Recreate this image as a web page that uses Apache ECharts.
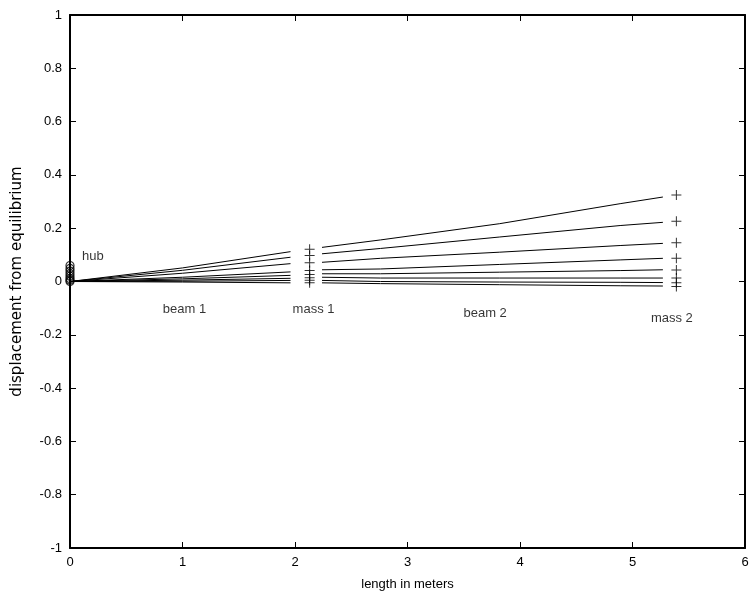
<!DOCTYPE html>
<html>
<head>
<meta charset="utf-8">
<script src="https://cdn.jsdelivr.net/npm/echarts@6/dist/echarts.min.js"></script>
<style>
  html, body { margin: 0; padding: 0; background: #fff; }
  #chart { width: 752px; height: 596px; }
</style>
</head>
<body>
<div id="chart"></div>
<script>
// Flexible two-beam arm: deflection snapshots along the structure.

// Hub angle markers (x = 0)
const hubValues = [0.060, 0.049, 0.039, 0.029, 0.020, 0.011, 0.005, 0.0];

// Beam 1 samples: positions and one row of deflections per snapshot
const beam1X = [0, 1.0, 1.96];
const beam1Y = [
  [0, 0.051, 0.112],
  [0, 0.042, 0.091],
  [0, 0.031, 0.067],
  [0, 0.016, 0.036],
  [0, 0.010, 0.023],
  [0, 0.005, 0.012],
  [0, 0.001, 0.004],
  [0, -0.002, -0.005]
];

// Tip mass 1
const mass1X = 2.13;
const mass1Y = [0.121, 0.098, 0.070, 0.041, 0.026, 0.014, 0.005, -0.005];

// Beam 2 samples
const beam2X = [2.24, 2.76, 3.82, 4.89, 5.27];
const beam2Y = [
  [0.128, 0.156, 0.217, 0.292, 0.317],
  [0.104, 0.124, 0.167, 0.210, 0.222],
  [0.072, 0.087, 0.110, 0.135, 0.143],
  [0.044, 0.047, 0.064, 0.081, 0.087],
  [0.029, 0.029, 0.035, 0.041, 0.044],
  [0.016, 0.013, 0.013, 0.013, 0.013],
  [0.004, 0.000, -0.002, -0.003, -0.004],
  [-0.005, -0.008, -0.012, -0.016, -0.017]
];

// Tip mass 2
const mass2X = 5.39;
const mass2Y = [0.325, 0.226, 0.145, 0.087, 0.043, 0.013, -0.005, -0.019];

// Annotations
const noteText = ['hub', 'beam 1', 'mass 1', 'beam 2', 'mass 2'];
const noteX = [0.107, 1.018, 2.165, 3.69, 5.35];
const noteY = [0.094, -0.105, -0.105, -0.12, -0.139];
const noteAlign = ['left', 'center', 'center', 'center', 'center'];

// Axis ranges
const xMin = 0, xMax = 6, xStep = 1;
const yMin = -1, yMax = 1, yStep = 0.2;

const FONT = 'Liberation Sans, Arial, Helvetica, sans-serif';
const INK = '#000';
const PLUS = 'path://M-0.1,-1H0.1V-0.1H1V0.1H0.1V1H-0.1V0.1H-1V-0.1H-0.1Z';

function lineSeries(xs, ys) {
  return {
    type: 'line',
    data: xs.map((x, i) => [x, ys[i]]),
    showSymbol: false,
    symbol: 'none',
    smooth: false,
    lineStyle: { color: INK, width: 1 },
    silent: true,
    z: 3
  };
}

const series = [];
beam1Y.forEach(row => series.push(lineSeries(beam1X, row)));
beam2Y.forEach(row => series.push(lineSeries(beam2X, row)));

series.push({
  type: 'scatter',
  data: hubValues.map(v => [0, v]),
  symbol: 'circle',
  symbolSize: 8,
  itemStyle: { color: 'rgba(0,0,0,0)', borderColor: INK, borderWidth: 1.2 },
  silent: true,
  z: 4
});

series.push({
  type: 'scatter',
  data: mass1Y.map(v => [mass1X, v]),
  symbol: PLUS,
  symbolSize: 10,
  itemStyle: { color: INK },
  silent: true,
  z: 4
});

series.push({
  type: 'scatter',
  data: mass2Y.map(v => [mass2X, v]),
  symbol: PLUS,
  symbolSize: 10,
  itemStyle: { color: INK },
  silent: true,
  z: 4
});

series.push({
  type: 'scatter',
  symbolSize: 0,
  silent: true,
  data: noteText.map((t, i) => ({
    value: [noteX[i], noteY[i]],
    label: {
      show: true,
      formatter: t,
      position: 'inside',
      align: noteAlign[i],
      verticalAlign: 'middle',
      color: INK,
      fontFamily: FONT,
      fontSize: 13
    }
  })),
  z: 5
});

const tickStyle = { inside: true, length: 6, lineStyle: { color: INK, width: 1 } };
const lineStyle = { color: INK, width: 2 };

const option = {
  backgroundColor: '#fff',
  animation: false,
  grid: { left: 70, right: 7, top: 15, bottom: 48, containLabel: false },
  xAxis: [
    {
      type: 'value', min: xMin, max: xMax, interval: xStep,
      position: 'bottom',
      name: 'length in meters', nameLocation: 'middle', nameGap: 30,
      nameTextStyle: { color: INK, fontFamily: FONT, fontSize: 13 },
      axisLine: { show: true, onZero: false, lineStyle },
      axisTick: tickStyle,
      axisLabel: { color: INK, fontFamily: FONT, fontSize: 13, margin: 8 },
      splitLine: { show: false }
    },
    {
      type: 'value', min: xMin, max: xMax, interval: xStep,
      position: 'top',
      axisLine: { show: true, onZero: false, lineStyle },
      axisTick: tickStyle,
      axisLabel: { show: false },
      splitLine: { show: false }
    }
  ],
  yAxis: [
    {
      type: 'value', min: yMin, max: yMax, interval: yStep,
      position: 'left',
      name: 'displacement from equilibrium', nameLocation: 'middle', nameGap: 45,
      nameTextStyle: { color: INK, fontFamily: 'DejaVu Sans, sans-serif', fontSize: 15 },
      axisLine: { show: true, onZero: false, lineStyle },
      axisTick: tickStyle,
      axisLabel: {
        color: INK, fontFamily: FONT, fontSize: 13, margin: 8,
        formatter: v => String(Math.round(v * 10) / 10)
      },
      splitLine: { show: false }
    },
    {
      type: 'value', min: yMin, max: yMax, interval: yStep,
      position: 'right',
      axisLine: { show: true, onZero: false, lineStyle },
      axisTick: tickStyle,
      axisLabel: { show: false },
      splitLine: { show: false }
    }
  ],
  series: series
};

const chart = echarts.init(document.getElementById('chart'), null, { renderer: 'canvas' });
chart.setOption(option);
</script>
</body>
</html>
